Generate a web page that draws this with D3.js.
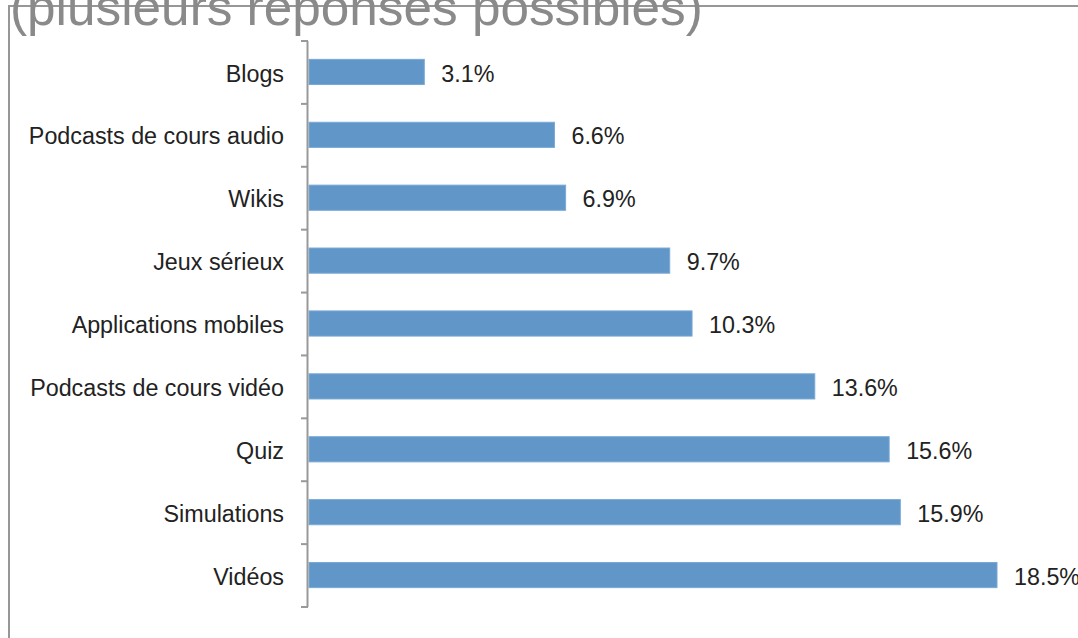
<!DOCTYPE html>
<html>
<head>
<meta charset="utf-8">
<script src="https://cdn.jsdelivr.net/npm/d3@7"></script>
<style>
  html, body { margin: 0; padding: 0; background: #fff; }
  svg { display: block; }
</style>
</head>
<body>
<div id="chart"></div>
<script>
const categories = ["Blogs", "Podcasts de cours audio", "Wikis", "Jeux sérieux", "Applications mobiles", "Podcasts de cours vidéo", "Quiz", "Simulations", "Vidéos"];
const values = [3.1, 6.6, 6.9, 9.7, 10.3, 13.6, 15.6, 15.9, 18.5];
const valueLabels = ["3.1%", "6.6%", "6.9%", "9.7%", "10.3%", "13.6%", "15.6%", "15.9%", "18.5%"];
const titleText = "(plusieurs réponses possibles)";

(function () {
const W = 1078, H = 638;
const svg = d3.select("#chart").append("svg").attr("width", W).attr("height", H);

const font = "'Liberation Sans', Arial, Helvetica, sans-serif";

// frame border (partially visible)
svg.append("path")
  .attr("d", `M9,${H + 5} L9,6 L${W + 5},6`)
  .attr("fill", "none")
  .attr("stroke", "#979797")
  .attr("stroke-width", 2);

// title (cropped at top)
svg.append("text")
  .attr("x", 10)
  .attr("y", 25)
  .attr("font-family", font)
  .attr("font-size", 51.3)
  .attr("fill", "#8a8a8a")
  .text(titleText);

const plotTop = 41, plotBottom = 607;
const y = d3.scaleBand().domain(categories).range([plotTop, plotBottom]).paddingInner(0.6).paddingOuter(0.3);
const x = d3.scaleLinear().domain([0, 18.5]).range([309, 997]);

const data = categories.map((c, i) => ({ c, v: values[i], l: valueLabels[i] }));

// bars
svg.append("g").selectAll("rect").data(data).enter().append("rect")
  .attr("x", x(0))
  .attr("y", d => y(d.c) - 0.5)
  .attr("width", d => x(d.v) - x(0))
  .attr("height", y.bandwidth())
  .attr("fill", "#6096c8")
  .attr("stroke", "#79a9d6")
  .attr("stroke-width", 1);

// axis line and ticks at band boundaries
const axisG = svg.append("g");
axisG.append("line")
  .attr("x1", 307.5).attr("x2", 307.5)
  .attr("y1", plotTop).attr("y2", plotBottom)
  .attr("stroke", "#999").attr("stroke-width", 2);
const boundaries = d3.range(categories.length + 1).map(i => plotTop + i * (plotBottom - plotTop) / categories.length);
axisG.selectAll("line.tick").data(boundaries).enter().append("line")
  .attr("class", "tick")
  .attr("x1", 301).attr("x2", 308)
  .attr("y1", d => d).attr("y2", d => d)
  .attr("stroke", "#999").attr("stroke-width", 2);

// category labels
svg.append("g").selectAll("text").data(data).enter().append("text")
  .attr("x", 284)
  .attr("y", d => y(d.c) + y.bandwidth() / 2 + 1)
  .attr("dy", "0.35em")
  .attr("text-anchor", "end")
  .attr("font-family", font)
  .attr("font-size", 23.3)
  .attr("fill", "#222")
  .text(d => d.c);

// value labels
svg.append("g").selectAll("text").data(data).enter().append("text")
  .attr("x", d => x(d.v) + 17)
  .attr("y", d => y(d.c) + y.bandwidth() / 2 + 1)
  .attr("dy", "0.35em")
  .attr("font-family", font)
  .attr("font-size", 23.3)
  .attr("fill", "#222")
  .text(d => d.l);
})();
</script>
</body>
</html>
